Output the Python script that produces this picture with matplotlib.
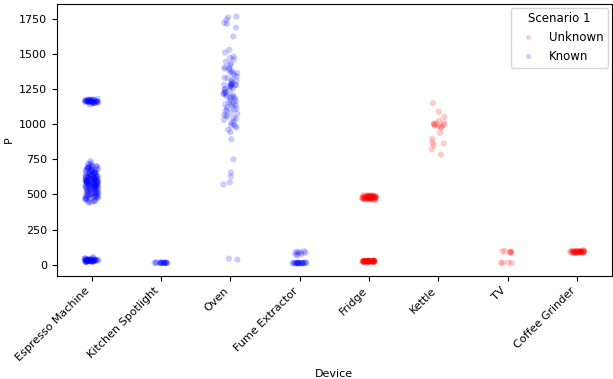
import numpy as np
import pandas as pd
import matplotlib
matplotlib.use("Agg")
import matplotlib.pyplot as plt
import seaborn as sns

devices = ["Espresso Machine", "Kitchen Spotlight", "Oven", "Fume Extractor",
           "Fridge", "Kettle", "TV", "Coffee Grinder"]
status = {"Espresso Machine": "Known", "Kitchen Spotlight": "Known", "Oven": "Known",
          "Fume Extractor": "Known", "Fridge": "Unknown", "Kettle": "Unknown",
          "TV": "Unknown", "Coffee Grinder": "Unknown"}

espresso = [
    1148, 1152, 1155, 1158, 1160, 1162, 1163, 1165, 1166, 1168, 1170, 1172, 1175, 1178,
    1150, 1154, 1157, 1159, 1161, 1164, 1167, 1169, 1171, 1173, 1156, 1160, 1163, 1166,
    1140, 1180, 1153, 1168, 1162, 1158, 1171, 1165, 1149, 1174, 1161, 1157,
    738, 725, 718, 712, 705, 701, 698, 694, 690, 686, 683, 679, 676, 672, 668, 665,
    661, 658, 655, 651, 648, 645, 642, 639, 636, 633, 630, 627, 624, 621, 618, 615,
    612, 609, 606, 603, 600, 597, 594, 591, 588, 585, 582, 579, 576, 573, 570, 567,
    564, 561, 558, 555, 552, 549, 546, 543, 540, 537, 534, 531, 528, 525, 522, 519,
    516, 513, 510, 507, 504, 501, 498, 495, 492, 489, 486, 483, 480, 476, 472, 468,
    463, 458, 452, 445, 440, 610, 595, 580, 565, 550, 600, 590, 575, 560, 545, 620,
    605, 585, 570, 555, 630, 612, 598, 583, 568, 640, 625, 602, 588, 572, 650, 635,
    615, 593, 577, 562, 548, 535, 520, 505, 490, 475, 660, 675, 690, 700, 680, 665,
    597, 603, 582, 574, 566, 559, 611, 619, 627, 541, 533, 526, 517, 508, 499, 491,
    484, 477, 470, 462, 455, 448, 705, 695, 685, 670, 655, 645, 632, 622, 608, 592,
    18, 20, 22, 24, 25, 26, 27, 28, 29, 30, 31, 32, 33, 34, 35, 36, 38, 40, 42, 45,
    21, 23, 25, 27, 29, 30, 31, 33, 35, 37, 19, 24, 28, 32, 36, 26, 30, 34, 22, 38,
    48, 55, 44, 28, 31, 25, 33, 29, 27, 35,
]
spotlight = [12, 13, 14, 12, 15, 13, 14, 12, 13, 14, 15, 13, 12, 14, 13, 16, 12, 14]
oven = [
    1766, 1743, 1714, 1686, 1760, 1720, 1624, 1529, 1481, 1471, 1421, 1386, 1326, 1279,
    1207, 1193, 1136, 1100, 1040, 986, 943, 893, 1510, 1460, 1445, 1430, 1405, 1395,
    1380, 1370, 1360, 1352, 1340, 1330, 1318, 1305, 1295, 1285, 1280, 1278, 1270, 1262,
    1255, 1248, 1240, 1232, 1225, 1218, 1210, 1200, 1195, 1188, 1180, 1172, 1165, 1158,
    1150, 1142, 1130, 1120, 1112, 1105, 1095, 1085, 1075, 1065, 1055, 1045, 1030, 1020,
    1010, 1000, 990, 975, 960, 1283, 1279, 1276, 1400, 1365, 1310, 1250, 1215, 1140,
    1060, 750, 657, 629, 586, 571, 43, 36,
]
fume = [95, 90, 88, 85, 80, 76, 72, 66, 92,
        8, 9, 10, 10, 11, 11, 12, 12, 12, 13, 13, 13, 14, 14, 15, 10, 11, 12, 13, 9, 14]
fridge = [
    458, 462, 465, 467, 469, 470, 471, 472, 473, 474, 475, 476, 477, 478, 479, 480,
    481, 482, 483, 484, 485, 486, 487, 488, 489, 490, 492, 494, 496, 466, 468, 470,
    472, 474, 476, 478, 480, 482, 484, 486, 488, 471, 473, 475, 477, 479, 481, 483,
    485, 487, 474, 476, 478, 480, 482, 484, 470, 490, 465, 495,
    18, 19, 20, 21, 22, 22, 23, 23, 24, 24, 25, 25, 26, 26, 27, 27, 28, 28, 29, 30,
    20, 21, 22, 23, 24, 25, 26, 27, 28, 21, 23, 25, 27, 22, 24, 26, 23, 25, 24, 26,
    19, 29, 22, 27, 24, 25, 23, 26, 21, 28,
]
kettle = [1150, 1088, 1052, 1024, 1005, 981, 995, 938, 896, 862, 821, 783,
          1010, 1000, 985, 975, 1002, 990, 870, 850]
tv = [95, 97, 92, 88, 85, 90, 12, 14, 15, 13]
grinder = [82, 84, 86, 87, 88, 89, 90, 90, 91, 91, 92, 92, 93, 93, 94, 95, 96, 97,
           98, 100, 102, 86, 88, 90, 92, 94, 96, 89, 91, 93, 95, 87, 99, 90, 92, 94]

values = {"Espresso Machine": espresso, "Kitchen Spotlight": spotlight, "Oven": oven,
          "Fume Extractor": fume, "Fridge": fridge, "Kettle": kettle, "TV": tv,
          "Coffee Grinder": grinder}

rows = []
for d in devices:
    for v in values[d]:
        rows.append((d, v, status[d]))
df = pd.DataFrame(rows, columns=["Device", "P", "Scenario 1"])

plt.rcParams["font.size"] = 8

np.random.seed(3)
fig, ax = plt.subplots(figsize=(6.13, 3.79), dpi=100)
sns.stripplot(data=df, x="Device", y="P", hue="Scenario 1", order=devices,
              hue_order=["Unknown", "Known"],
              palette={"Unknown": "red", "Known": "blue"}, alpha=0.2, size=4.5, ax=ax)
ax.set_yticks([0, 250, 500, 750, 1000, 1250, 1500, 1750])
plt.setp(ax.get_xticklabels(), rotation=45, ha="right")
ax.legend(title="Scenario 1", loc="upper right", fontsize=8.5, title_fontsize=8.5,
          borderaxespad=0.3, markerscale=0.8)
fig.subplots_adjust(left=0.093, right=0.998, top=0.989, bottom=0.272)
fig.savefig("out.png", dpi=100)
